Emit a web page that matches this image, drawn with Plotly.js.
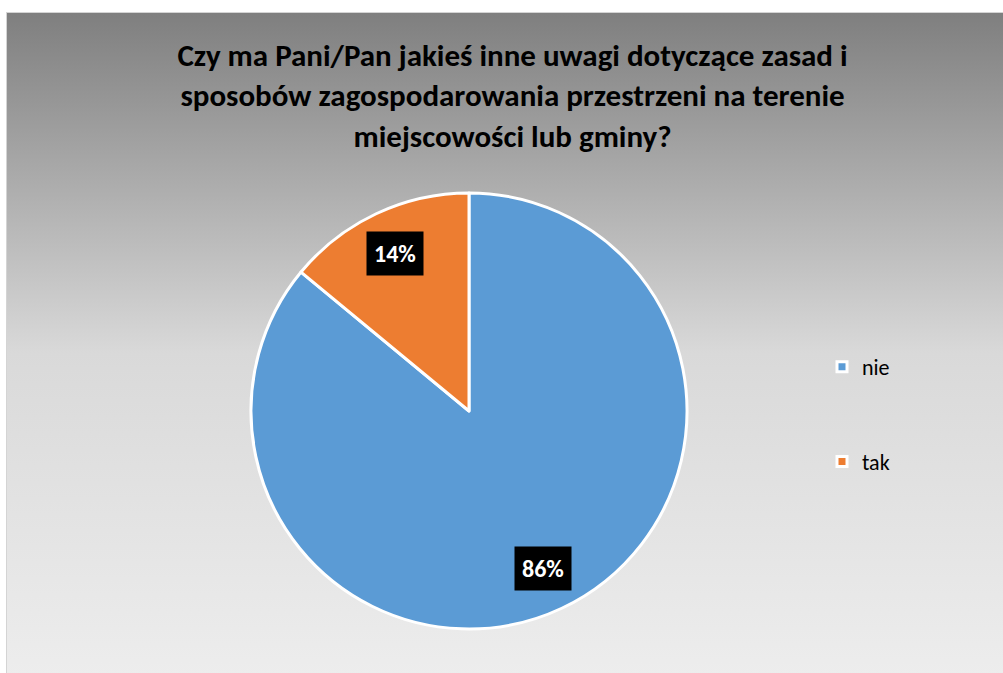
<!DOCTYPE html>
<html>
<head>
<meta charset="utf-8">
<script src="https://cdn.plot.ly/plotly-3.0.1.min.js"></script>
<style>
  html, body { margin: 0; padding: 0; width: 1003px; height: 673px; overflow: hidden; background: #ffffff; }
  #bg { position: absolute; left: 6px; top: 12px; width: 1010px; height: 680px;
        border: 1px solid #d4d4d4;
        background: linear-gradient(to bottom, #7f7f7f 0%, #d9d9d9 50%, #eeeeee 100%); }
  #chart { position: absolute; left: 0; top: 0; width: 1003px; height: 673px; }
</style>
</head>
<body>
<div id="bg"></div>
<div id="chart"></div>
<script>
const titleText = 'Czy ma Pani/Pan jakieś inne uwagi dotyczące zasad i<br>sposobów zagospodarowania przestrzeni na terenie<br>miejscowości lub gminy?';
const categories = ['nie', 'tak'];
const values = [86, 14];
const labelsText = ['86%', '14%'];
const colors = ['#5B9BD5', '#ED7D31'];

const W = 1003, H = 673;
const cx = 469, cy = 411, R = 218;
const domX = [(cx - R) / W, (cx + R) / W];
const domY = [1 - (cy + R) / H, 1 - (cy - R) / H];

const FONT = 'Carlito, Lato, "Liberation Sans", sans-serif';

const traces = [{
  type: 'pie',
  labels: categories,
  values: values,
  sort: false,
  direction: 'clockwise',
  rotation: 0,
  textinfo: 'none',
  hoverinfo: 'none',
  showlegend: false,
  marker: { colors: colors, line: { color: '#ffffff', width: 3 } },
  domain: { x: domX, y: domY }
}];

// legend entries
categories.forEach((c, i) => {
  traces.push({
    type: 'scatter', mode: 'markers', x: [null], y: [null],
    name: c, legendgroup: 'g' + i,
    marker: { symbol: 'square', size: 10, color: colors[i], line: { color: '#ffffff', width: 3 } },
    hoverinfo: 'none'
  });
});

// percent labels positioned at slice mid-angles
const total = values.reduce((a, b) => a + b, 0);
const annotations = [];
let cum = 0;
values.forEach((v, i) => {
  const mid = (cum + v / 2) / total * 2 * Math.PI;
  cum += v;
  const d = 0.8 * R;
  const px = cx + Math.sin(mid) * d;
  const py = cy - Math.cos(mid) * d;
  annotations.push({
    xref: 'paper', yref: 'paper', x: px / W, y: 1 - py / H,
    xanchor: 'center', yanchor: 'middle', showarrow: false,
    text: '<b>' + labelsText[i] + '</b>',
    font: { family: FONT, size: 24, color: '#ffffff' },
    bgcolor: '#000000', borderpad: 7
  });
});

const layout = {
  width: W, height: H,
  margin: { l: 0, r: 0, t: 0, b: 0 },
  paper_bgcolor: 'rgba(0,0,0,0)',
  plot_bgcolor: 'rgba(0,0,0,0)',
  title: {
    text: '<b>' + titleText + '</b>',
    font: { family: FONT, size: 31, color: '#000000' },
    x: 0.511, xanchor: 'center', y: 0.902, yanchor: 'top'
  },
  xaxis: { visible: false, domain: [0.99, 1] },
  yaxis: { visible: false, domain: [0.99, 1] },
  showlegend: true,
  legend: {
    x: 822 / W, xanchor: 'left', y: 1 - 346 / H, yanchor: 'top',
    bgcolor: 'rgba(0,0,0,0)',
    font: { family: FONT, size: 22, color: '#000000' },
    tracegroupgap: 63, itemwidth: 30
  },
  annotations: annotations
};

Plotly.newPlot('chart', traces, layout, { staticPlot: true, displayModeBar: false });
</script>
</body>
</html>
